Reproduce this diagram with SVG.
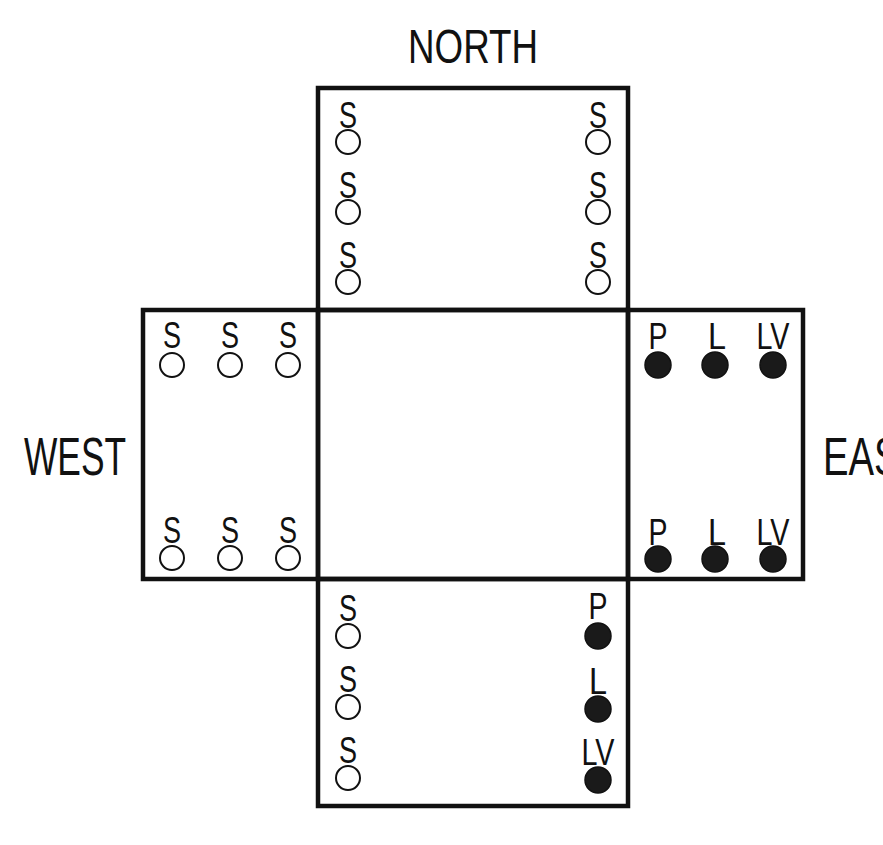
<svg xmlns="http://www.w3.org/2000/svg" width="883" height="845" viewBox="0 0 883 845">
<style>
.box{fill:none;stroke:#111;stroke-width:4.5}
.open{fill:#fff;stroke:#111;stroke-width:2}
.dot{fill:#1a1a1a;stroke:#111;stroke-width:1.5}
.lbl{font-family:"Liberation Sans",Arial,sans-serif;font-size:36px;fill:#111;text-anchor:middle}
.big{font-family:"Liberation Sans",Arial,sans-serif;fill:#111}
</style>
<rect width="883" height="845" fill="#fff"/>
<g id="boxes">
<rect id="north-box" class="box" x="318" y="88" width="310" height="222"/>
<rect id="center-box" class="box" x="318" y="310" width="310" height="269"/>
<rect id="west-box" class="box" x="143" y="310" width="175" height="269"/>
<rect id="east-box" class="box" x="628" y="310" width="175" height="269"/>
<rect id="south-box" class="box" x="318" y="579" width="310" height="227"/>
</g>
<g id="titles">
<text id="north" class="big" x="408" y="63" font-size="49" textLength="130" lengthAdjust="spacingAndGlyphs">NORTH</text>
<text id="west" class="big" x="24" y="475" font-size="54" textLength="102" lengthAdjust="spacingAndGlyphs">WEST</text>
<text id="east" class="big" x="823" y="475" font-size="54" textLength="100" lengthAdjust="spacingAndGlyphs">EAST</text>
</g>
<g id="north-items">
<g id="n1"><text class="lbl" x="348" y="128" textLength="18" lengthAdjust="spacingAndGlyphs">S</text><circle class="open" cx="348" cy="142" r="12"/></g>
<g id="n2"><text class="lbl" x="348" y="198" textLength="18" lengthAdjust="spacingAndGlyphs">S</text><circle class="open" cx="348" cy="212" r="12"/></g>
<g id="n3"><text class="lbl" x="348" y="268" textLength="18" lengthAdjust="spacingAndGlyphs">S</text><circle class="open" cx="348" cy="282" r="12"/></g>
<g id="n4"><text class="lbl" x="598" y="128" textLength="18" lengthAdjust="spacingAndGlyphs">S</text><circle class="open" cx="598" cy="142" r="12"/></g>
<g id="n5"><text class="lbl" x="598" y="198" textLength="18" lengthAdjust="spacingAndGlyphs">S</text><circle class="open" cx="598" cy="212" r="12"/></g>
<g id="n6"><text class="lbl" x="598" y="268" textLength="18" lengthAdjust="spacingAndGlyphs">S</text><circle class="open" cx="598" cy="282" r="12"/></g>
</g>
<g id="west-items">
<g id="w1"><text class="lbl" x="172" y="348" textLength="18" lengthAdjust="spacingAndGlyphs">S</text><circle class="open" cx="172" cy="365" r="12"/></g>
<g id="w2"><text class="lbl" x="230" y="348" textLength="18" lengthAdjust="spacingAndGlyphs">S</text><circle class="open" cx="230" cy="365" r="12"/></g>
<g id="w3"><text class="lbl" x="288" y="348" textLength="18" lengthAdjust="spacingAndGlyphs">S</text><circle class="open" cx="288" cy="365" r="12"/></g>
<g id="w4"><text class="lbl" x="172" y="543" textLength="18" lengthAdjust="spacingAndGlyphs">S</text><circle class="open" cx="172" cy="558" r="12"/></g>
<g id="w5"><text class="lbl" x="230" y="543" textLength="18" lengthAdjust="spacingAndGlyphs">S</text><circle class="open" cx="230" cy="558" r="12"/></g>
<g id="w6"><text class="lbl" x="288" y="543" textLength="18" lengthAdjust="spacingAndGlyphs">S</text><circle class="open" cx="288" cy="558" r="12"/></g>
</g>
<g id="east-items">
<g id="e1"><text class="lbl" x="658" y="349" textLength="19" lengthAdjust="spacingAndGlyphs">P</text><circle class="dot" cx="658" cy="365" r="13"/></g>
<g id="e2"><text class="lbl" x="717" y="349" textLength="18" lengthAdjust="spacingAndGlyphs">L</text><circle class="dot" cx="715" cy="365" r="13"/></g>
<g id="e3"><text class="lbl" x="773" y="349" textLength="33" lengthAdjust="spacingAndGlyphs">LV</text><circle class="dot" cx="773" cy="365" r="13"/></g>
<g id="e4"><text class="lbl" x="658" y="545" textLength="19" lengthAdjust="spacingAndGlyphs">P</text><circle class="dot" cx="658" cy="559" r="13"/></g>
<g id="e5"><text class="lbl" x="717" y="545" textLength="18" lengthAdjust="spacingAndGlyphs">L</text><circle class="dot" cx="715" cy="559" r="13"/></g>
<g id="e6"><text class="lbl" x="773" y="545" textLength="33" lengthAdjust="spacingAndGlyphs">LV</text><circle class="dot" cx="773" cy="559" r="13"/></g>
</g>
<g id="south-items">
<g id="s1"><text class="lbl" x="348" y="621" textLength="18" lengthAdjust="spacingAndGlyphs">S</text><circle class="open" cx="348" cy="636" r="12"/></g>
<g id="s2"><text class="lbl" x="348" y="692" textLength="18" lengthAdjust="spacingAndGlyphs">S</text><circle class="open" cx="348" cy="707" r="12"/></g>
<g id="s3"><text class="lbl" x="348" y="763" textLength="18" lengthAdjust="spacingAndGlyphs">S</text><circle class="open" cx="348" cy="778" r="12"/></g>
<g id="s4"><text class="lbl" x="598" y="619" textLength="19" lengthAdjust="spacingAndGlyphs">P</text><circle class="dot" cx="598" cy="636" r="13"/></g>
<g id="s5"><text class="lbl" x="598" y="694" textLength="18" lengthAdjust="spacingAndGlyphs">L</text><circle class="dot" cx="598" cy="709" r="13"/></g>
<g id="s6"><text class="lbl" x="598" y="765" textLength="33" lengthAdjust="spacingAndGlyphs">LV</text><circle class="dot" cx="598" cy="780" r="13"/></g>
</g>
<g id="connectors"/>
</svg>
